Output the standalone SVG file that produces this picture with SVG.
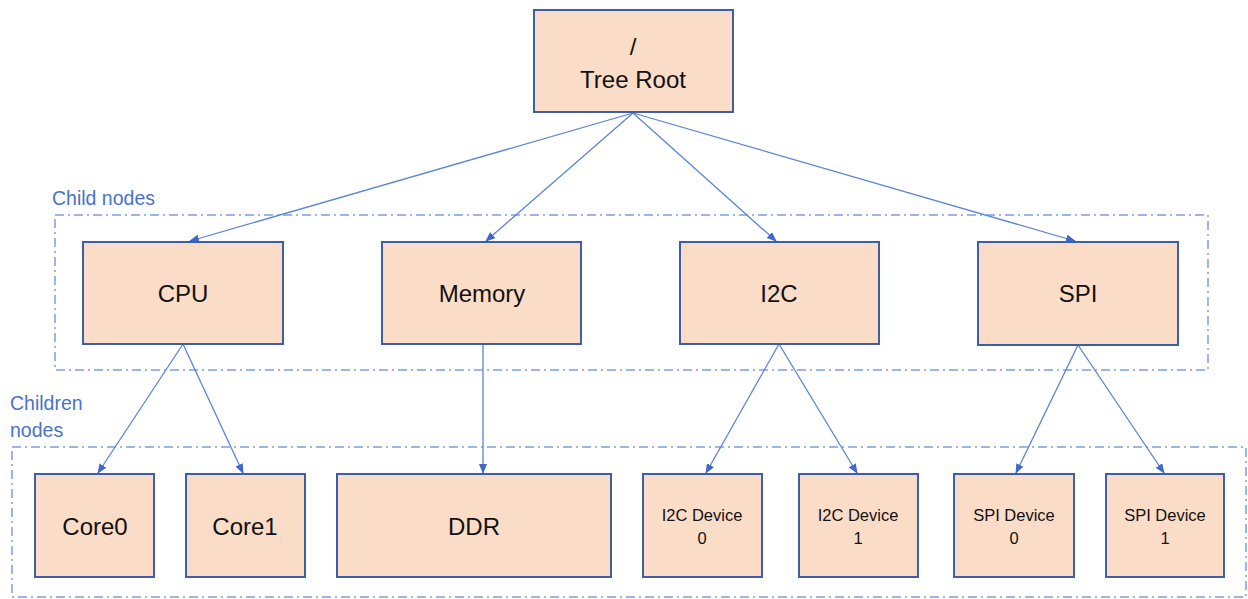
<svg xmlns="http://www.w3.org/2000/svg" width="1248" height="599" viewBox="0 0 1248 599">
<style>
.box{fill:#fbdcc7;stroke:#3f5ea8;stroke-width:2}
.t{font-family:"Liberation Sans",Arial,sans-serif;fill:#111;text-anchor:middle}
.big{font-size:24px}
.sm{font-size:16.5px}
.grp{fill:none;stroke:#7c9ee0;stroke-width:1.5;stroke-dasharray:9 4 2 4}
.lbl{font-family:"Liberation Sans",Arial,sans-serif;font-size:19.5px;fill:#4a72c8}
.c{stroke:#5b84d6;stroke-width:1.3;fill:none;marker-end:url(#ah)}
</style>
<defs>
<marker id="ah" markerWidth="10" markerHeight="8" refX="9" refY="4" orient="auto" markerUnits="userSpaceOnUse">
<path d="M0,0 L10,4 L0,8 Z" fill="#3f68c8"/>
</marker>
</defs>
<rect width="1248" height="599" fill="#fff"/>
<g id="groups">
<rect class="grp" x="55" y="215" width="1153" height="155"/>
<rect class="grp" x="12" y="447" width="1234" height="150"/>
<text class="lbl" x="52" y="205">Child nodes</text>
<text class="lbl" x="10" y="410">Children</text>
<text class="lbl" x="10" y="437">nodes</text>
</g>
<g id="connectors">
<line class="c" x1="633" y1="113" x2="190" y2="241"/>
<line class="c" x1="633" y1="113" x2="486" y2="241"/>
<line class="c" x1="633" y1="113" x2="776" y2="241"/>
<line class="c" x1="633" y1="113" x2="1075" y2="241"/>
<line class="c" x1="183" y1="344" x2="98" y2="473"/>
<line class="c" x1="183" y1="344" x2="243" y2="473"/>
<line class="c" x1="483" y1="344" x2="483" y2="473"/>
<line class="c" x1="779" y1="344" x2="706" y2="473"/>
<line class="c" x1="779" y1="344" x2="857" y2="473"/>
<line class="c" x1="1078" y1="345" x2="1016" y2="473"/>
<line class="c" x1="1078" y1="345" x2="1164" y2="473"/>
</g>
<g id="root"><rect class="box" x="534" y="10" width="199" height="102"/><text class="t big" x="633" y="55">/</text><text class="t big" x="633" y="88">Tree Root</text></g>
<g id="cpu"><rect class="box" x="83" y="242" width="200" height="102"/><text class="t big" x="183" y="302">CPU</text></g>
<g id="memory"><rect class="box" x="382" y="242" width="199" height="102"/><text class="t big" x="482" y="302">Memory</text></g>
<g id="i2c"><rect class="box" x="680" y="242" width="199" height="102"/><text class="t big" x="779" y="302">I2C</text></g>
<g id="spi"><rect class="box" x="978" y="242" width="200" height="103"/><text class="t big" x="1078" y="302">SPI</text></g>
<g id="core0"><rect class="box" x="35" y="474" width="119" height="103"/><text class="t big" x="95" y="535">Core0</text></g>
<g id="core1"><rect class="box" x="186" y="474" width="119" height="103"/><text class="t big" x="245" y="535">Core1</text></g>
<g id="ddr"><rect class="box" x="337" y="474" width="274" height="103"/><text class="t big" x="474" y="535">DDR</text></g>
<g id="i2cdev0"><rect class="box" x="643" y="474" width="119" height="103"/><text class="t sm" x="702" y="521">I2C Device</text><text class="t sm" x="702" y="544">0</text></g>
<g id="i2cdev1"><rect class="box" x="799" y="474" width="119" height="103"/><text class="t sm" x="858" y="521">I2C Device</text><text class="t sm" x="858" y="544">1</text></g>
<g id="spidev0"><rect class="box" x="954" y="474" width="120" height="103"/><text class="t sm" x="1014" y="521">SPI Device</text><text class="t sm" x="1014" y="544">0</text></g>
<g id="spidev1"><rect class="box" x="1106" y="474" width="118" height="103"/><text class="t sm" x="1165" y="521">SPI Device</text><text class="t sm" x="1165" y="544">1</text></g>
</svg>
